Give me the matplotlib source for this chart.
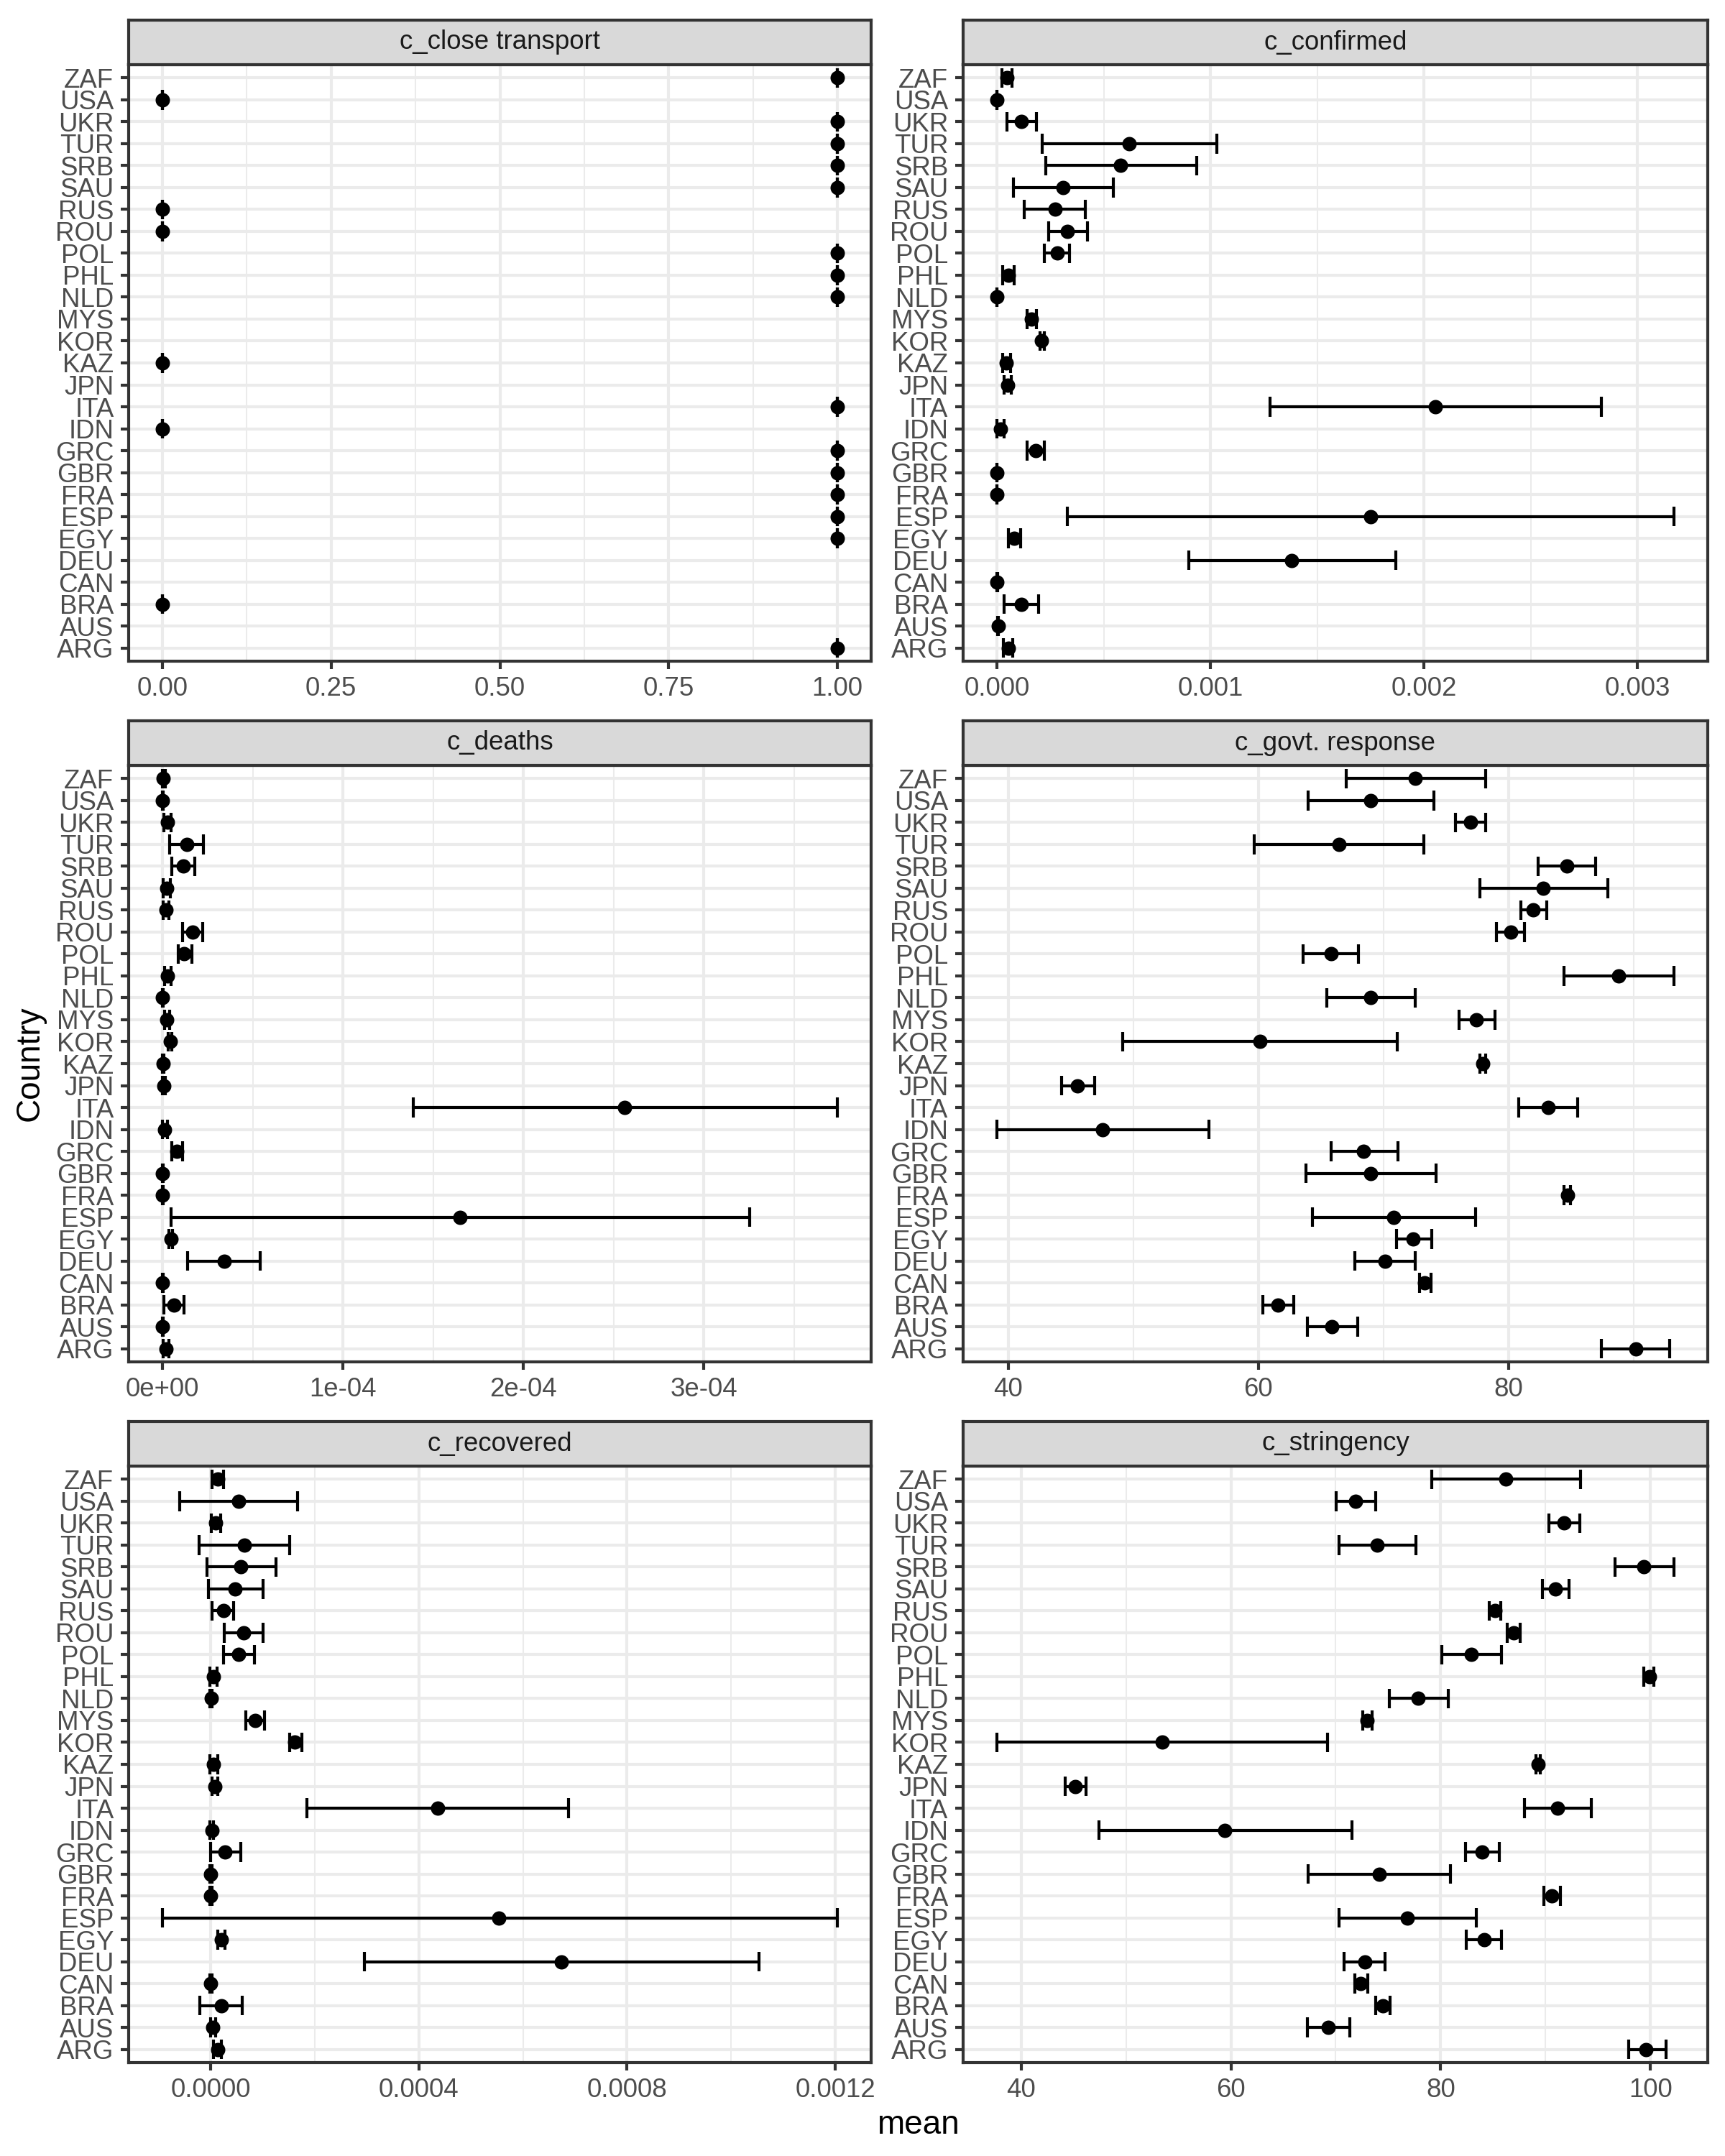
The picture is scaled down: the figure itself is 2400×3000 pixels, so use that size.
import numpy as np
import matplotlib
matplotlib.use("Agg")
import matplotlib.pyplot as plt

plt.rcParams['font.family'] = ['Liberation Sans', 'DejaVu Sans']

# --- data (countries bottom -> top) ---
countries = ["ARG", "AUS", "BRA", "CAN", "DEU", "EGY", "ESP", "FRA", "GBR", "GRC",
             "IDN", "ITA", "JPN", "KAZ", "KOR", "MYS", "NLD", "PHL", "POL", "ROU",
             "RUS", "SAU", "SRB", "TUR", "UKR", "USA", "ZAF"]
nan = np.nan

close_mean = [1, nan, 0, nan, nan, 1, 1, 1, 1, 1,
              0, 1, nan, 0, nan, nan, 1, 1, 1, 0,
              0, 1, 1, 1, 1, 0, 1]
close_lo = close_mean
close_hi = close_mean

# c_confirmed, in units of 1e-4
conf_mean = [0.53, 0.05, 1.13, 0.0, 13.81, 0.80, 17.49, 0.0, 0.0, 1.83,
             0.15, 20.53, 0.50, 0.45, 2.10, 1.60, 0.0, 0.53, 2.81, 3.31,
             2.71, 3.11, 5.79, 6.19, 1.15, 0.0, 0.48]
conf_lo = [0.30, 0.02, 0.33, 0.0, 9.00, 0.55, 3.31, 0.0, 0.0, 1.40,
           0.0, 12.78, 0.33, 0.25, 2.00, 1.40, 0.0, 0.25, 2.23, 2.41,
           1.28, 0.78, 2.28, 2.13, 0.48, 0.0, 0.23]
conf_hi = [0.75, 0.08, 1.95, 0.02, 18.67, 1.10, 31.70, 0.01, 0.01, 2.23,
           0.33, 28.32, 0.68, 0.65, 2.23, 1.85, 0.01, 0.80, 3.41, 4.24,
           4.14, 5.44, 9.35, 10.28, 1.85, 0.01, 0.70]

# c_deaths, in units of 1e-4
death_mean = [0.022, 0.0, 0.065, 0.0, 0.342, 0.047, 1.649, 0.0, 0.0, 0.081,
              0.012, 2.559, 0.009, 0.003, 0.043, 0.025, 0.0, 0.028, 0.121, 0.168,
              0.019, 0.025, 0.115, 0.134, 0.028, 0.0, 0.006]
death_lo = [0.006, 0.0, 0.009, 0.0, 0.140, 0.037, 0.047, 0.0, 0.0, 0.053,
            0.0, 1.391, 0.0, 0.0, 0.034, 0.012, 0.0, 0.012, 0.087, 0.112,
            0.003, 0.006, 0.053, 0.040, 0.009, 0.0, 0.0]
death_hi = [0.037, 0.003, 0.121, 0.003, 0.543, 0.056, 3.255, 0.003, 0.003, 0.112,
            0.030, 3.739, 0.018, 0.009, 0.053, 0.040, 0.003, 0.047, 0.165, 0.224,
            0.037, 0.043, 0.180, 0.227, 0.047, 0.003, 0.015]

govt_mean = [90.18, 65.88, 61.56, 73.28, 70.12, 72.39, 70.84, 84.71, 69.00, 68.41,
             47.57, 83.17, 45.52, 77.95, 60.15, 77.43, 69.00, 88.81, 65.80, 80.17,
             81.97, 82.78, 84.66, 66.44, 76.96, 68.96, 72.56]
govt_lo = [87.44, 63.91, 60.36, 72.86, 67.72, 71.02, 64.34, 84.45, 63.83, 65.80,
           39.10, 80.81, 44.24, 77.73, 49.16, 76.06, 65.45, 84.41, 63.57, 79.06,
           80.98, 77.73, 82.35, 59.64, 75.76, 64.00, 67.04]
govt_hi = [92.88, 67.94, 62.80, 73.80, 72.56, 73.84, 77.35, 84.96, 74.22, 71.14,
           56.04, 85.52, 46.93, 78.16, 71.10, 78.89, 72.56, 93.22, 68.02, 81.28,
           83.04, 87.91, 86.97, 73.24, 78.16, 74.01, 78.16]

# c_recovered, in units of 1e-4
rec_mean = [0.13, 0.04, 0.205, 0.0, 6.73, 0.205, 5.54, 0.0, 0.0, 0.28,
            0.02, 4.36, 0.076, 0.054, 1.62, 0.85, 0.01, 0.054, 0.54, 0.63,
            0.24, 0.47, 0.58, 0.65, 0.10, 0.54, 0.14]
rec_lo = [0.05, 0.0, -0.205, -0.02, 2.95, 0.13, -0.928, -0.02, -0.02, 0.0,
          -0.01, 1.85, 0.02, -0.02, 1.51, 0.68, -0.01, -0.01, 0.25, 0.26,
          0.02, -0.05, -0.076, -0.22, 0.01, -0.60, 0.03]
rec_hi = [0.21, 0.09, 0.60, 0.02, 10.54, 0.28, 12.04, 0.02, 0.02, 0.58,
          0.05, 6.88, 0.14, 0.13, 1.75, 1.04, 0.03, 0.12, 0.84, 1.00,
          0.44, 1.00, 1.25, 1.52, 0.19, 1.67, 0.25]

str_mean = [99.59, 69.29, 74.49, 72.40, 72.81, 84.13, 76.84, 90.61, 74.13, 83.98,
            59.44, 91.17, 45.15, 89.29, 53.47, 73.01, 77.86, 99.90, 82.91, 86.94,
            85.15, 90.97, 99.39, 73.93, 91.79, 71.89, 86.22]
str_lo = [97.91, 67.30, 73.83, 71.84, 70.82, 82.45, 70.31, 89.85, 67.35, 82.35,
          47.40, 88.01, 44.18, 89.08, 37.70, 72.60, 75.10, 99.39, 80.10, 86.38,
          84.64, 89.69, 96.63, 70.31, 90.31, 70.05, 79.13]
str_hi = [101.48, 71.33, 75.20, 73.06, 74.69, 85.82, 83.37, 91.43, 80.92, 85.61,
          71.58, 94.39, 46.17, 89.49, 69.23, 73.47, 80.71, 100.36, 85.82, 87.60,
          85.71, 92.24, 102.24, 77.65, 93.27, 73.83, 93.32]

panels = [
    ("c_close transport", close_mean, close_lo, close_hi, 1.0,
     [0, 0.25, 0.5, 0.75, 1.0], ["0.00", "0.25", "0.50", "0.75", "1.00"]),
    ("c_confirmed", conf_mean, conf_lo, conf_hi, 1e-4,
     [0, 0.001, 0.002, 0.003], ["0.000", "0.001", "0.002", "0.003"]),
    ("c_deaths", death_mean, death_lo, death_hi, 1e-4,
     [0, 1e-4, 2e-4, 3e-4], ["0e+00", "1e-04", "2e-04", "3e-04"]),
    ("c_govt. response", govt_mean, govt_lo, govt_hi, 1.0,
     [40, 60, 80], ["40", "60", "80"]),
    ("c_recovered", rec_mean, rec_lo, rec_hi, 1e-4,
     [0, 0.0004, 0.0008, 0.0012], ["0.0000", "0.0004", "0.0008", "0.0012"]),
    ("c_stringency", str_mean, str_lo, str_hi, 1.0,
     [40, 60, 80, 100], ["40", "60", "80", "100"]),
]

# --- layout (pixels on a 2400x3000 canvas) ---
W, H = 2400, 3000
col_x = [(179, 1212), (1340, 2376)]
row_top = [28, 1003, 1978]
strip_h = 62
plot_h = 830

lw = 1.0
grid_col = "#EBEBEB"
dark = "#333333"

fig = plt.figure(figsize=(8, 10), dpi=300)

y = np.arange(1, len(countries) + 1)

for i, (title, m, lo, hi, scale, ticks, ticklabels) in enumerate(panels):
    r, c = divmod(i, 2)
    x0, x1 = col_x[c]
    top = row_top[r]
    ax = fig.add_axes([x0 / W, 1 - (top + strip_h + plot_h) / H,
                       (x1 - x0) / W, plot_h / H])
    sax = fig.add_axes([x0 / W, 1 - (top + strip_h) / H, (x1 - x0) / W, strip_h / H])

    m = np.array(m, dtype=float) * scale
    lo = np.array(lo, dtype=float) * scale
    hi = np.array(hi, dtype=float) * scale
    ok = ~np.isnan(m)

    # error bars ggplot style: whisker + caps of width 0.9
    ax.hlines(y[ok], lo[ok], hi[ok], color="black", lw=lw, zorder=3)
    ax.vlines(lo[ok], y[ok] - 0.45, y[ok] + 0.45, color="black", lw=lw, zorder=3)
    ax.vlines(hi[ok], y[ok] - 0.45, y[ok] + 0.45, color="black", lw=lw, zorder=3)
    ax.plot(m[ok], y[ok], "o", color="black", ms=4.8, mew=0, zorder=4)

    dmin, dmax = np.nanmin(lo), np.nanmax(hi)
    pad = 0.05 * (dmax - dmin)
    xlo, xhi = dmin - pad, dmax + pad

    ax.set_xticks(ticks)
    ax.set_xticklabels(ticklabels)
    step = ticks[1] - ticks[0]
    minor = np.arange(ticks[0] - step / 2, xhi + step, step)
    minor = minor[(minor > xlo) & (minor < xhi)]
    ax.set_xticks(minor, minor=True)
    ax.set_yticks(y)
    ax.set_yticklabels(countries)
    ax.set_xlim(xlo, xhi)
    ax.set_ylim(0.4, len(countries) + 0.6)

    ax.grid(True, which="major", color=grid_col, lw=lw, zorder=0)
    ax.grid(True, which="minor", axis="x", color=grid_col, lw=lw / 2, zorder=0)
    ax.set_axisbelow(True)
    ax.tick_params(which="major", length=2.75, width=lw, color=dark,
                   labelsize=8.8, labelcolor="#4D4D4D", pad=2.2)
    ax.tick_params(which="minor", length=0)
    for s in ax.spines.values():
        s.set_color(dark)
        s.set_linewidth(lw)

    sax.set_facecolor("#D9D9D9")
    sax.set_xticks([])
    sax.set_yticks([])
    for s in sax.spines.values():
        s.set_color(dark)
        s.set_linewidth(lw)
    sax.text(0.5, 0.5, title, ha="center", va="center", fontsize=8.8,
             color="#1A1A1A", transform=sax.transAxes)

fig.text(42 / W, 1 - 1480 / H, "Country", rotation=90, ha="center", va="center",
         fontsize=11, color="black")
fig.text(1277 / W, 1 - 2957 / H, "mean", ha="center", va="center",
         fontsize=11, color="black")

fig.savefig("out.png", dpi=300)
